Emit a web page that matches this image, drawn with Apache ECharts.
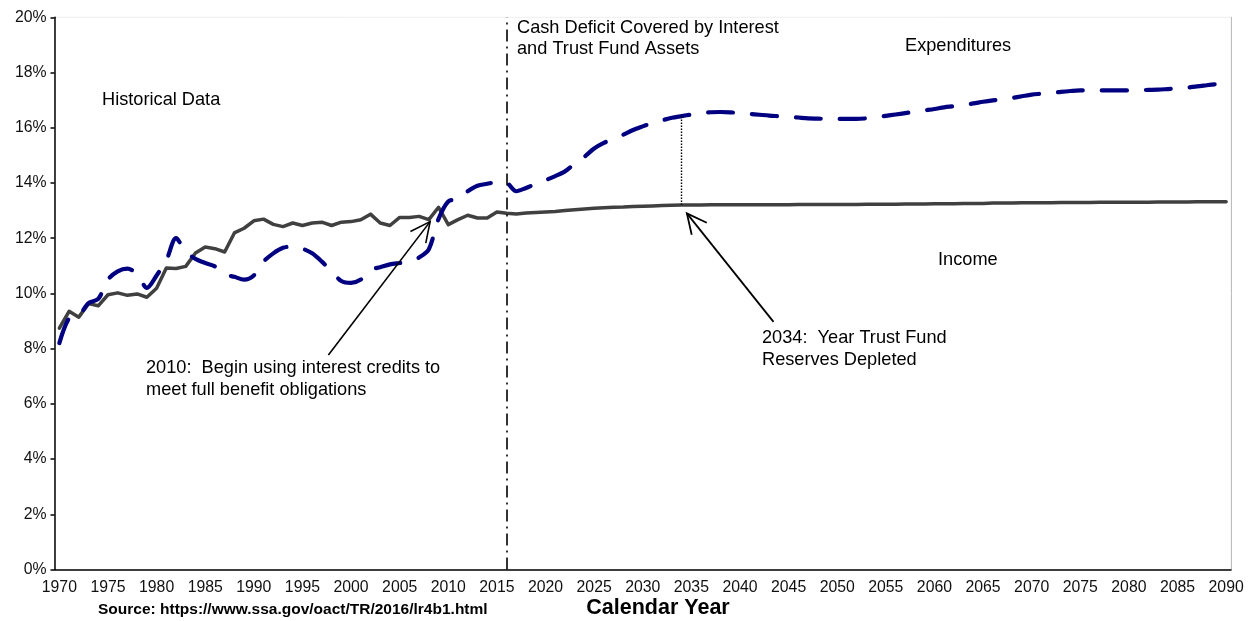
<!DOCTYPE html>
<html>
<head>
<meta charset="utf-8">
<script src="https://cdn.jsdelivr.net/npm/echarts@6/dist/echarts.min.js"></script>
<style>
html,body{margin:0;padding:0;background:#fff;}
#chart{width:1252px;height:621px;}
</style>
</head>
<body>
<div id="chart"></div>
<script>
// ---- Data (percent) ----
var firstYear = 1970, lastYear = 2090;
var years = [];
for (var y = firstYear; y <= lastYear; y++) years.push(String(y));

var incomeRate = [
  8.74, 9.35, 9.14, 9.63, 9.55, 9.95, 10.02, 9.93, 9.98, 9.86,
  10.19, 10.92, 10.9, 10.98, 11.46, 11.68, 11.62, 11.5, 12.19, 12.36,
  12.63, 12.69, 12.5, 12.42, 12.55, 12.46, 12.55, 12.58, 12.46, 12.58,
  12.6, 12.67, 12.87, 12.55, 12.46, 12.75, 12.75, 12.79, 12.67, 13.12,
  12.49, 12.67, 12.83, 12.73, 12.73, 12.95, 12.9, 12.88, 12.91, 12.93,
  12.95, 12.97, 13.0, 13.03, 13.06, 13.08, 13.1, 13.12, 13.13, 13.15,
  13.16, 13.17, 13.18, 13.19, 13.2, 13.2, 13.2, 13.21, 13.21, 13.21,
  13.21, 13.21, 13.21, 13.21, 13.21, 13.21, 13.22, 13.22, 13.22, 13.22,
  13.22, 13.22, 13.22, 13.23, 13.23, 13.23, 13.23, 13.24, 13.24, 13.24,
  13.25, 13.25, 13.25, 13.26, 13.26, 13.26, 13.27, 13.27, 13.27, 13.28,
  13.28, 13.28, 13.28, 13.29, 13.29, 13.29, 13.29, 13.3, 13.3, 13.3,
  13.3, 13.3, 13.3, 13.31, 13.31, 13.31, 13.31, 13.32, 13.32, 13.32,
  13.32
];

var expenditureRate = [
  8.2, 9.1, 9.2, 9.65, 9.8, 10.5, 10.8, 10.9, 10.7, 10.2,
  10.65, 11.2, 12.0, 11.5, 11.25, 11.1, 10.98, 10.7, 10.6, 10.5,
  10.65, 11.15, 11.45, 11.65, 11.7, 11.62, 11.45, 11.15, 10.8, 10.45,
  10.38, 10.5, 10.85, 10.95, 11.05, 11.1, 11.15, 11.3, 11.6, 12.7,
  13.33, 13.42, 13.7, 13.9, 13.97, 14.03, 14.0, 13.7, 13.82, 13.97,
  14.1, 14.25, 14.42, 14.7, 14.95, 15.25, 15.45, 15.6, 15.75, 15.92,
  16.05, 16.17, 16.27, 16.36, 16.42, 16.48, 16.53, 16.56, 16.57, 16.56,
  16.53, 16.5, 16.47, 16.44, 16.42, 16.4, 16.37, 16.34, 16.33, 16.32,
  16.32, 16.32, 16.32, 16.34, 16.38, 16.43, 16.48, 16.53, 16.58, 16.63,
  16.68, 16.74, 16.78, 16.83, 16.88, 16.94, 16.99, 17.03, 17.08, 17.14,
  17.2, 17.23, 17.26, 17.3, 17.33, 17.35, 17.35, 17.35, 17.35, 17.35,
  17.35, 17.36, 17.37, 17.38, 17.4, 17.42, 17.45, 17.5, 17.54, 17.58,
  17.63
];

var projectionStartYear = '2016';
var depletionYear = '2034';
var yTicks = [0, 2, 4, 6, 8, 10, 12, 14, 16, 18, 20];

// annotation arrows: [tailYear, tailValue] -> [headYear, headValue]
var arrow2010 = {tail: [1997.67, 7.77], head: [2008.13, 12.6]};
var arrow2034 = {tail: [2043.45, 8.97], head: [2034.54, 12.9]};

// ---- Chart ----
var FONT = "'Liberation Sans', Arial, sans-serif";
var chart = echarts.init(document.getElementById('chart'), null, {renderer: 'canvas'});
var depIdx = years.indexOf(depletionYear);

var option = {
  animation: false,
  backgroundColor: '#ffffff',
  grid: {left: 54.5, right: 21, top: 17.3, bottom: 51.5, show: true, borderColor: '#eeeeee', borderWidth: 1},
  xAxis: [{
    type: 'category',
    data: years,
    boundaryGap: true,
    axisLine: {lineStyle: {color: '#000', width: 1.5}},
    axisTick: {interval: 4, length: 4, lineStyle: {color: '#000', width: 1.5}},
    axisLabel: {interval: 4, color: '#111', fontFamily: FONT, fontSize: 15.8, margin: 10},
    splitLine: {show: false}
  }, {
    type: 'value',
    min: 1969.5, max: 2090.5,
    show: false
  }],
  yAxis: [{
    type: 'value',
    min: yTicks[0], max: yTicks[yTicks.length - 1], interval: 2,
    axisLine: {show: true, lineStyle: {color: '#000', width: 1.5}},
    axisTick: {show: true, length: 4, lineStyle: {color: '#000', width: 1.5}},
    axisLabel: {formatter: '{value}%', color: '#111', fontFamily: FONT, fontSize: 15.8, margin: 8},
    splitLine: {show: false}
  }, {
    type: 'value', position: 'right',
    min: 0, max: 20, interval: 2,
    axisLine: {show: true, lineStyle: {color: '#bdbdbd', width: 1}},
    axisTick: {show: false}, axisLabel: {show: false}, splitLine: {show: false}
  }],
  series: [{
    name: 'Income',
    type: 'line',
    data: incomeRate,
    symbol: 'none',
    smooth: false,
    lineStyle: {color: '#404040', width: 3.5, join: 'round', cap: 'round'},
    z: 3
  }, {
    name: 'Expenditures',
    type: 'line',
    data: expenditureRate,
    symbol: 'none',
    smooth: 0.3,
    lineStyle: {color: '#000080', width: 4.2, type: [25, 19], cap: 'round', join: 'round'},
    z: 4,
    markLine: {
      silent: true,
      symbol: ['none', 'none'],
      label: {show: false},
      emphasis: {disabled: true},
      data: [
        [{coord: [projectionStartYear, 0], lineStyle: {color: '#000', width: 1.6, type: [12, 5, 2, 5]}},
         {coord: [projectionStartYear, 20]}],
        [{coord: [depletionYear, incomeRate[depIdx]], lineStyle: {color: '#000', width: 1.4, type: [1.5, 1.5]}},
         {coord: [depletionYear, expenditureRate[depIdx]]}]
      ]
    }
  }]
};
chart.setOption(option);

function px(pt) {
  return chart.convertToPixel({xAxisIndex: 1, yAxisIndex: 0}, pt);
}
function arrowGraphics(a, width) {
  var h = px(a.head), t = px(a.tail);
  var dx = t[0] - h[0], dy = t[1] - h[1];
  var len = Math.sqrt(dx * dx + dy * dy);
  var ux = dx / len, uy = dy / len;
  var L = 22, ang = 26 * Math.PI / 180;
  function rot(s) {
    var c = Math.cos(s * ang), si = Math.sin(s * ang);
    return [h[0] + L * (ux * c - uy * si), h[1] + L * (ux * si + uy * c)];
  }
  var w1 = rot(1), w2 = rot(-1);
  return [
    {type: 'line', shape: {x1: t[0], y1: t[1], x2: h[0], y2: h[1]}, style: {stroke: '#000', lineWidth: width}, z: 100},
    {type: 'polyline', shape: {points: [w1, h, w2]}, style: {stroke: '#000', lineWidth: width, fill: null, lineJoin: 'miter'}, z: 100}
  ];
}
function txt(s, x, y, size, weight, align) {
  return {type: 'text', x: x, y: y, z: 100, silent: true,
    style: {text: s, fill: '#000', font: (weight || 'normal') + ' ' + size + 'px ' + FONT,
      align: align || 'left', verticalAlign: 'middle'}};
}
var g = [];
g = g.concat(arrowGraphics(arrow2010, 1.6));
g = g.concat(arrowGraphics(arrow2034, 1.8));
g.push(txt('Historical Data', 102, 100, 18.2));
g.push(txt('Cash Deficit Covered by Interest', 517, 28, 18.2));
g.push(txt('and Trust Fund Assets', 517, 49, 18.2));
g.push(txt('Expenditures', 905, 46, 18.2));
g.push(txt('Income', 938, 260, 18.2));
g.push(txt('2034:  Year Trust Fund', 762, 338, 18.2));
g.push(txt('Reserves Depleted', 762, 360, 18.2));
g.push(txt('2010:  Begin using interest credits to', 146, 368, 18.2));
g.push(txt('meet full benefit obligations', 146, 390, 18.2));
g.push(txt('Calendar Year', 658, 608, 21.5, 'bold', 'center'));
g.push(txt('Source: https://www.ssa.gov/oact/TR/2016/lr4b1.html', 98, 610, 15.5, 'bold'));
chart.setOption({graphic: {elements: g}});
</script>
</body>
</html>
